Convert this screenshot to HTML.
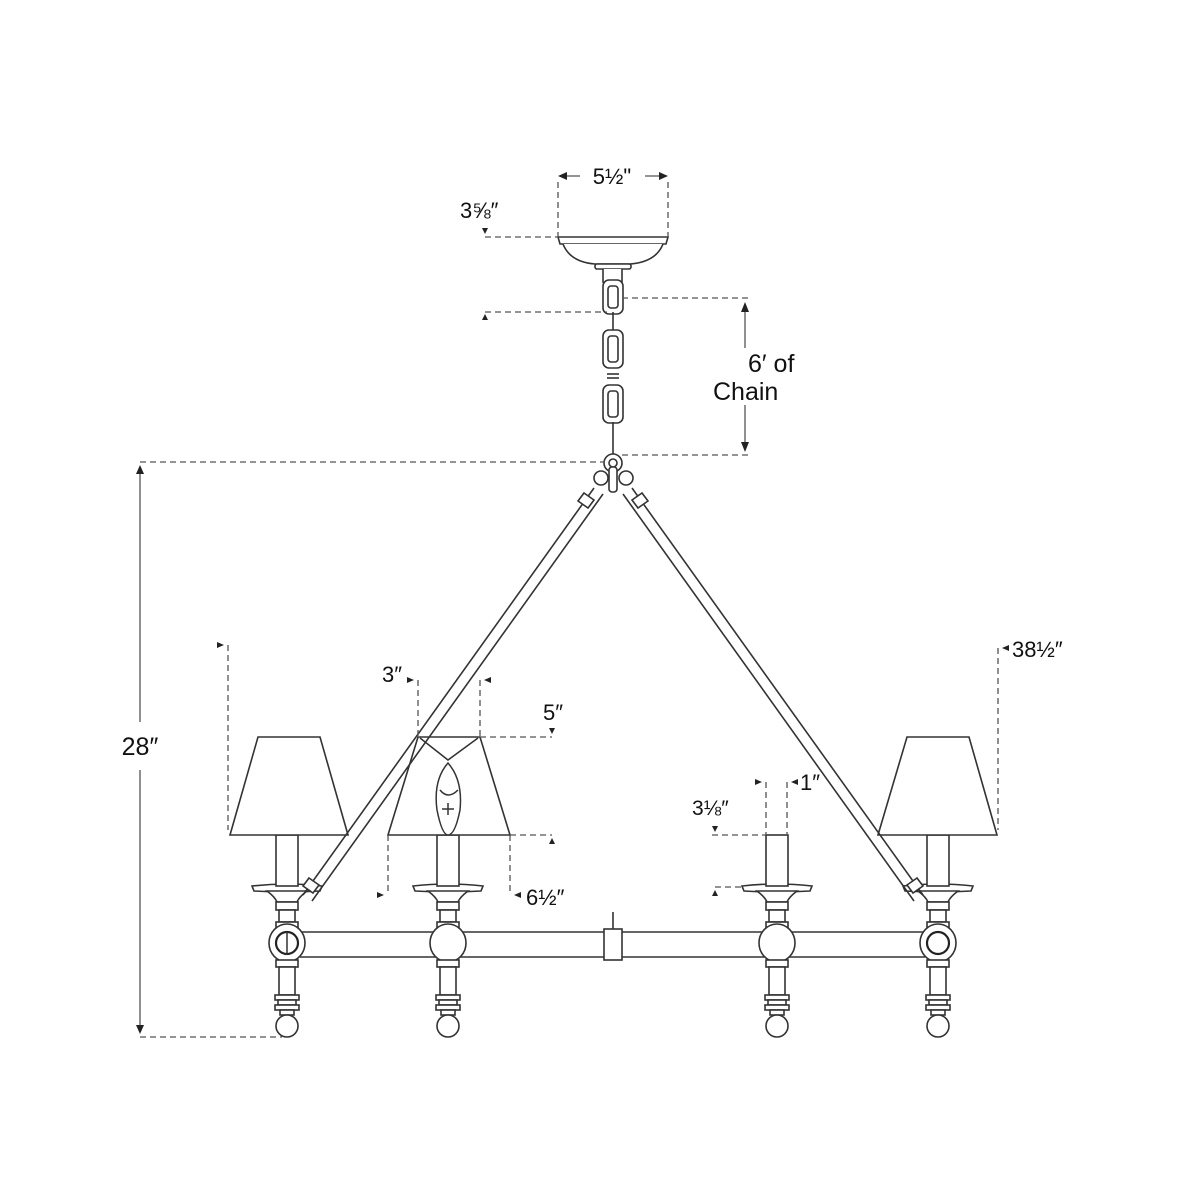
<!DOCTYPE html>
<html><head><meta charset="utf-8"><style>
html,body{margin:0;padding:0;background:#fff;}
svg{display:block;}
text{font-family:"Liberation Sans",sans-serif;fill:#111;}
</style></head><body>
<svg width="1200" height="1200" viewBox="0 0 1200 1200" xmlns="http://www.w3.org/2000/svg">
<defs>
<g id="col" fill="#fff" stroke="#333" stroke-width="1.6">
  <path d="M-35,886 Q0,882 35,886 L33,891 Q0,893 -33,891 Z"/>
  <path d="M-20,891 Q-12,897 -10,902 L10,902 Q12,897 20,891 Z"/>
  <rect x="-11" y="902" width="22" height="8"/>
  <rect x="-8" y="910" width="16" height="12"/>
  <rect x="-11" y="922" width="22" height="6"/>
  <ellipse cx="0" cy="943" rx="18" ry="19"/>
  <rect x="-11" y="960" width="22" height="7"/>
  <rect x="-8" y="967" width="16" height="28"/>
  <rect x="-12" y="995" width="24" height="5"/>
  <rect x="-9" y="1000" width="18" height="5"/>
  <rect x="-12" y="1005" width="24" height="5"/>
  <rect x="-7" y="1010" width="14" height="5"/>
  <circle cx="0" cy="1026" r="11"/>
</g>
<g id="candle" fill="#fff" stroke="#333" stroke-width="1.6">
  <rect x="-11" y="835" width="22" height="51"/>
</g>
</defs>

<g fill="none" stroke="#333" stroke-width="1.6">
  <path d="M558,237 L668,237 L666,244 L560,244 Z" fill="#fff"/>
  <path d="M563,244 Q570,262 595,264 L630,264 Q656,262 663,244" fill="#fff"/>
  <rect x="595" y="264" width="36" height="5" rx="2" fill="#fff"/>
  <path d="M603,269 L603,282 Q613,292 622,282 L622,269" fill="#fff"/>
  <rect x="603" y="280" width="20" height="34" rx="6" fill="#fff"/>
  <rect x="608" y="286" width="10" height="22" rx="3"/>
  <line x1="613" y1="312" x2="613" y2="336"/>
  <rect x="603" y="330" width="20" height="38" rx="6" fill="#fff"/>
  <rect x="608" y="336" width="10" height="26" rx="3"/>
  <line x1="607" y1="374" x2="619" y2="374"/>
  <line x1="607" y1="378" x2="619" y2="378"/>
  <rect x="603" y="385" width="20" height="38" rx="6" fill="#fff"/>
  <rect x="608" y="391" width="10" height="26" rx="3"/>
  <line x1="613" y1="422" x2="613" y2="455"/>
  <circle cx="613" cy="463" r="9" fill="#fff"/>
  <circle cx="613" cy="463" r="4"/>
  <circle cx="601" cy="478" r="7" fill="#fff"/>
  <circle cx="626" cy="478" r="7" fill="#fff"/>
  <rect x="609" y="467" width="8" height="25" rx="3" fill="#fff"/>
  <line x1="300" y1="932" x2="925" y2="932"/>
  <line x1="300" y1="957" x2="925" y2="957"/>
  <rect x="604" y="929" width="18" height="31" fill="#fff"/>
  <line x1="613" y1="912" x2="613" y2="929"/>
</g>

<use href="#col" x="287"/>
<use href="#col" x="448"/>
<use href="#col" x="777"/>
<use href="#col" x="938"/>
<use href="#candle" x="287"/>
<use href="#candle" x="448"/>
<use href="#candle" x="777"/>
<use href="#candle" x="938"/>

<g fill="none" stroke="#222" stroke-width="2.2">
  <circle cx="287" cy="943" r="11"/>
  <circle cx="938" cy="943" r="11"/>
</g>
<line x1="287" y1="932" x2="287" y2="955" stroke="#333" stroke-width="1.5"/>

<g fill="#fff" stroke="#333" stroke-width="1.6">
  <path d="M258,737 L320,737 L348,835 L230,835 Z"/>
  <path d="M418,737 L480,737 L510,835 L388,835 Z"/>
  <path d="M907,737 L969,737 L997,835 L878,835 Z"/>
</g>
<g fill="none" stroke="#333" stroke-width="1.5">
  <path d="M420,738 L448,760 L478,738"/>
  <path d="M448,763 Q433,780 437,810 Q442,835 448,835 Q455,835 460,810 Q463,780 448,763 Z" fill="#fff"/>
  <path d="M440,790 Q448,800 458,790"/>
  <line x1="448" y1="803" x2="448" y2="815"/><line x1="442" y1="809" x2="454" y2="809"/>
</g>

<!-- arms on top -->
<g fill="none" stroke="#333" stroke-width="1.6">
  <line x1="594" y1="488" x2="303" y2="895"/>
  <line x1="603" y1="494" x2="312" y2="901"/>
  <line x1="632" y1="488" x2="923" y2="895"/>
  <line x1="623" y1="494" x2="914" y2="901"/>
  <path d="M584,493 L594,500 L588,508 L578,501 Z" fill="#fff"/>
  <path d="M642,493 L632,500 L638,508 L648,501 Z" fill="#fff"/>
  <path d="M309,878 L319,885 L313,893 L303,886 Z" fill="#fff"/>
  <path d="M917,878 L907,885 L913,893 L923,886 Z" fill="#fff"/>
</g>

<g fill="none" stroke="#555" stroke-width="1.3" stroke-dasharray="6,4">
  <line x1="558" y1="182" x2="558" y2="237"/>
  <line x1="668" y1="182" x2="668" y2="237"/>
  <line x1="485" y1="237" x2="558" y2="237"/>
  <line x1="485" y1="312" x2="607" y2="312"/>
  <line x1="622" y1="298" x2="750" y2="298"/>
  <line x1="622" y1="455" x2="750" y2="455"/>
  <line x1="140" y1="462" x2="605" y2="462"/>
  <line x1="140" y1="1037" x2="282" y2="1037"/>
  <line x1="228" y1="645" x2="228" y2="830"/>
  <line x1="998" y1="648" x2="998" y2="830"/>
  <line x1="418" y1="680" x2="418" y2="737"/>
  <line x1="480" y1="680" x2="480" y2="737"/>
  <line x1="480" y1="737" x2="552" y2="737"/>
  <line x1="388" y1="835" x2="388" y2="895"/>
  <line x1="510" y1="835" x2="510" y2="895"/>
  <line x1="510" y1="835" x2="552" y2="835"/>
  <line x1="766" y1="782" x2="766" y2="835"/>
  <line x1="787" y1="782" x2="787" y2="835"/>
  <line x1="712" y1="835" x2="766" y2="835"/>
  <line x1="715" y1="887" x2="745" y2="887"/>
</g>
<g stroke="#555" stroke-width="1.3">
  <line x1="140" y1="470" x2="140" y2="722"/>
  <line x1="140" y1="770" x2="140" y2="1030"/>
  <line x1="745" y1="308" x2="745" y2="348"/>
  <line x1="745" y1="405" x2="745" y2="448"/>
  <line x1="562" y1="176" x2="580" y2="176"/>
  <line x1="645" y1="176" x2="664" y2="176"/>
</g>
<g fill="#222">
  <path d="M140,465 L136,474 L144,474 Z"/>
  <path d="M140,1034 L136,1025 L144,1025 Z"/>
  <path d="M745,302 L741,312 L749,312 Z"/>
  <path d="M745,452 L741,442 L749,442 Z"/>
  <path d="M558,176 L567,172 L567,180 Z"/>
  <path d="M668,176 L659,172 L659,180 Z"/>
  <path d="M485,234 L482,228 L488,228 Z"/>
  <path d="M485,314 L482,320 L488,320 Z"/>
  <path d="M224,645 L217,642 L217,648 Z"/>
  <path d="M1002,648 L1009,645 L1009,651 Z"/>
  <path d="M414,680 L407,677 L407,683 Z"/>
  <path d="M484,680 L491,677 L491,683 Z"/>
  <path d="M552,734 L549,728 L555,728 Z"/>
  <path d="M552,838 L549,844 L555,844 Z"/>
  <path d="M384,895 L377,892 L377,898 Z"/>
  <path d="M514,895 L521,892 L521,898 Z"/>
  <path d="M762,782 L755,779 L755,785 Z"/>
  <path d="M791,782 L798,779 L798,785 Z"/>
  <path d="M715,832 L712,826 L718,826 Z"/>
  <path d="M715,890 L712,896 L718,896 Z"/>
</g>

<text x="612" y="184" font-size="22" text-anchor="middle">5½"</text>
<text x="460" y="218" font-size="22">3⅝″</text>
<text x="748" y="372" font-size="25">6′ of</text>
<text x="713" y="400" font-size="25">Chain</text>
<text x="140" y="755" font-size="25" text-anchor="middle">28″</text>
<text x="1012" y="657" font-size="22">38½″</text>
<text x="382" y="682" font-size="22">3″</text>
<text x="543" y="720" font-size="22">5″</text>
<text x="526" y="905" font-size="22">6½″</text>
<text x="692" y="815" font-size="21">3⅛″</text>
<text x="800" y="790" font-size="22">1″</text>
</svg>
</body></html>
